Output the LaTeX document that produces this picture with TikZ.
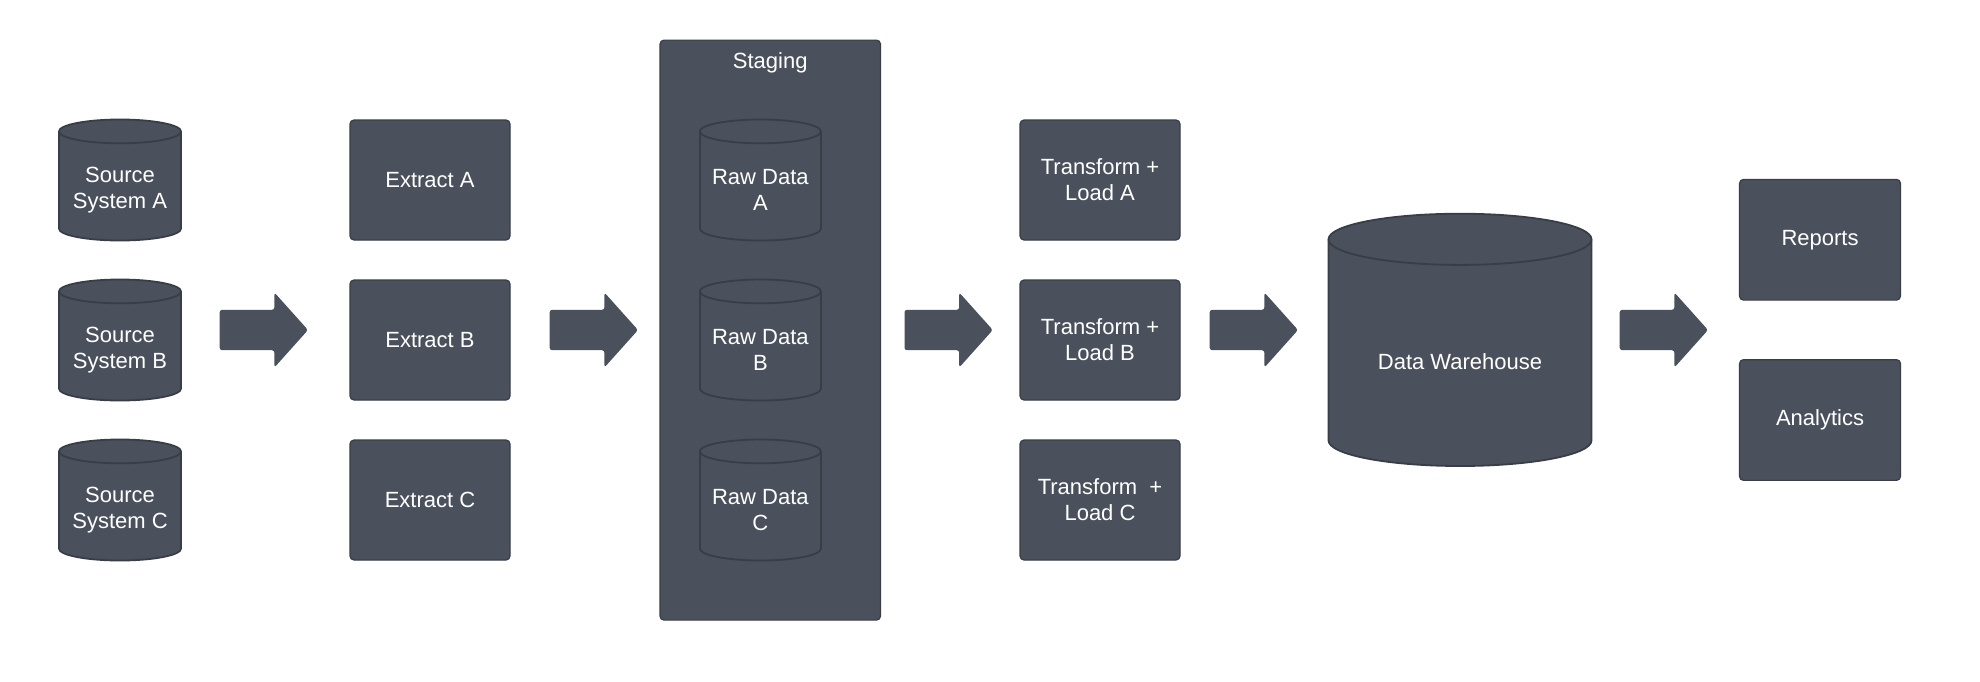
\documentclass[tikz,border=0pt]{standalone}
\usepackage{fontspec}
\setmainfont{Liberation Sans}
\definecolor{shapefill}{RGB}{75,81,92}
\definecolor{shapeline}{RGB}{56,61,70}
\tikzset{
  lbl/.style={text=white, align=center, font=\fontsize{22}{26}\selectfont, inner sep=0pt},
  box/.style={lbl, draw=shapeline, fill=shapefill, line width=1.2pt, rounded corners=4pt},
  cylbody/.style={draw=shapeline, fill=shapefill, line width=1.8pt},
  blockarrow/.style={fill=shapefill, rounded corners=2.5pt}
}
% name, cx, cy, w, h, ry, text
\newcommand\dbcyl[7]{%
  \coordinate (#1-c) at (#2,#3);
  \path[cylbody] ([shift={(-#4/2,#5/2-#6)}]#1-c) -- ++(0,-#5+2*#6)
    arc[start angle=180,end angle=360,x radius=#4/2,y radius=#6]
    -- ++(0,#5-2*#6)
    arc[start angle=0,end angle=180,x radius=#4/2,y radius=#6] -- cycle;
  \draw[cylbody, fill=none] ([shift={(-#4/2,#5/2-#6)}]#1-c)
    arc[start angle=180,end angle=360,x radius=#4/2,y radius=#6];
  \node[lbl] (#1) at ([yshift=-#6*0.85]#1-c) {#7};
}
% name, left x, centre y
\newcommand\blockarr[3]{%
  \coordinate (#1) at (#2,#3);
  \fill[blockarrow] (#1) ++(0,20.2) -- ++(54.7,0) -- ++(0,17.3) -- ++(33.6,-37.5)
    -- ++(-33.6,-37.5) -- ++(0,17.3) -- ++(-54.7,0) -- cycle;
}
\begin{document}
\begin{tikzpicture}[x=1pt,y=1pt]
\useasboundingbox (0,0) rectangle (1980,-681);
\fill[white] (0,0) rectangle (1980,-681);

% sources
\dbcyl{srcA}{120}{-180}{122}{121}{11.9}{Source\\System A}
\dbcyl{srcB}{120}{-340}{122}{121}{11.9}{Source\\System B}
\dbcyl{srcC}{120}{-500}{122}{121}{11.9}{Source\\System C}

\blockarr{ar1}{219.7}{-330}

% extract
\node[box, minimum width=160pt, minimum height=120pt] (exA) at (430,-180) {Extract A};
\node[box, minimum width=160pt, minimum height=120pt] (exB) at (430,-340) {Extract B};
\node[box, minimum width=160pt, minimum height=120pt] (exC) at (430,-500) {Extract C};

\blockarr{ar2}{549.7}{-330}

% staging
\node[box, minimum width=220.5pt, minimum height=580pt] (staging) at (770.25,-330.1) {};
\node[lbl] (stagingLabel) at (770.25,-63) {Staging};
\dbcyl{rawA}{760.4}{-180}{121}{121}{11.9}{Raw Data\\A}
\dbcyl{rawB}{760.4}{-340}{121}{121}{11.9}{Raw Data\\B}
\dbcyl{rawC}{760.4}{-500}{121}{121}{11.9}{Raw Data\\C}

\blockarr{ar3}{904.5}{-330}

% transform
\node[box, minimum width=160pt, minimum height=120pt] (trA) at (1100,-180) {Transform +\\Load A};
\node[box, minimum width=160pt, minimum height=120pt] (trB) at (1100,-340) {Transform +\\Load B};
\node[box, minimum width=160pt, minimum height=120pt] (trC) at (1100,-500) {Transform\ \ +\\Load C};

\blockarr{ar4}{1209.7}{-330}

% warehouse
\dbcyl{dw}{1460}{-339.85}{263}{252.3}{25.6}{Data Warehouse}

\blockarr{ar5}{1619.7}{-330}

% outputs
\node[box, minimum width=161pt, minimum height=120.7pt] (rep) at (1820,-239.75) {Reports};
\node[box, minimum width=161pt, minimum height=120.7pt] (ana) at (1820,-420) {Analytics};
\end{tikzpicture}
\end{document}
